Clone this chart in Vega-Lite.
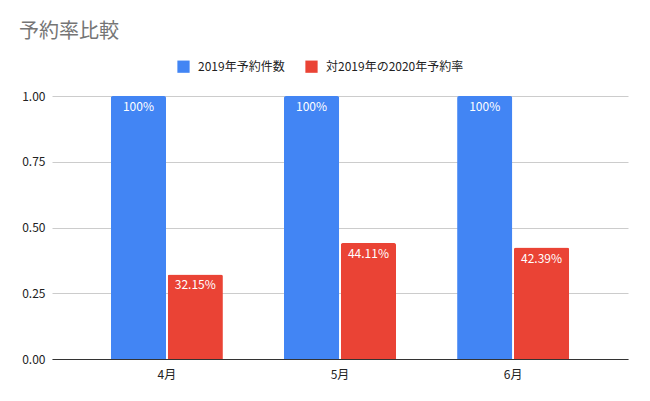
{
  "$schema": "https://vega.github.io/schema/vega-lite/v6.json",
  "width": 576,
  "height": 263,
  "autosize": {"type": "none"},
  "padding": {"left": 52, "top": 96, "right": 22, "bottom": 42},
  "background": "white",
  "config": {
    "font": "Noto Sans CJK JP",
    "view": {"stroke": null}
  },
  "title": {
    "text": "予約率比較",
    "anchor": "start",
    "frame": "group",
    "fontSize": 20,
    "fontWeight": "normal",
    "color": "#757575",
    "dx": -33,
    "offset": 18
  },
  "data": {
    "values": [
      {"month": "4月", "series": "2019年予約件数", "value": 1.0},
      {"month": "4月", "series": "対2019年の2020年予約率", "value": 0.3215},
      {"month": "5月", "series": "2019年予約件数", "value": 1.0},
      {"month": "5月", "series": "対2019年の2020年予約率", "value": 0.4411},
      {"month": "6月", "series": "2019年予約件数", "value": 1.0},
      {"month": "6月", "series": "対2019年の2020年予約率", "value": 0.4239}
    ]
  },
  "encoding": {
    "x": {
      "field": "month",
      "type": "nominal",
      "sort": ["4月", "5月", "6月"],
      "scale": {"paddingInner": 0.353, "paddingOuter": 0.34},
      "axis": {
        "title": null,
        "labelAngle": 0,
        "ticks": false,
        "labelPadding": 10,
        "labelFontSize": 12,
        "labelColor": "#222222",
        "domainColor": "#333333",
        "domainWidth": 1
      }
    },
    "xOffset": {
      "field": "series",
      "type": "nominal",
      "sort": ["2019年予約件数", "対2019年の2020年予約率"],
      "scale": {"paddingInner": 0.03}
    },
    "y": {
      "field": "value",
      "type": "quantitative",
      "scale": {"domain": [0, 1]},
      "axis": {
        "title": null,
        "values": [0, 0.25, 0.5, 0.75, 1],
        "format": ".2f",
        "ticks": false,
        "domain": false,
        "labelPadding": 7,
        "labelFontSize": 12,
        "labelColor": "#222222",
        "gridColor": "#cccccc",
        "gridWidth": 1
      }
    }
  },
  "layer": [
    {
      "mark": {"type": "bar", "cornerRadiusTopLeft": 2, "cornerRadiusTopRight": 2},
      "encoding": {
        "color": {
          "field": "series",
          "type": "nominal",
          "sort": ["2019年予約件数", "対2019年の2020年予約率"],
          "scale": {
            "domain": ["2019年予約件数", "対2019年の2020年予約率"],
            "range": ["#4285F4", "#EA4335"]
          },
          "legend": {
            "title": null,
            "orient": "none",
            "direction": "horizontal",
            "legendX": 125,
            "legendY": -36,
            "symbolType": "square",
            "symbolSize": 150,
            "symbolStrokeWidth": 0,
            "symbolOpacity": 1,
            "labelFontSize": 12,
            "labelColor": "#222222",
            "labelOffset": 8,
            "columnPadding": 20
          }
        }
      }
    },
    {
      "mark": {
        "type": "text",
        "baseline": "top",
        "dy": 6,
        "color": "white",
        "fontSize": 12
      },
      "encoding": {
        "text": {"field": "value", "type": "quantitative", "format": ".2~%"}
      }
    }
  ]
}
